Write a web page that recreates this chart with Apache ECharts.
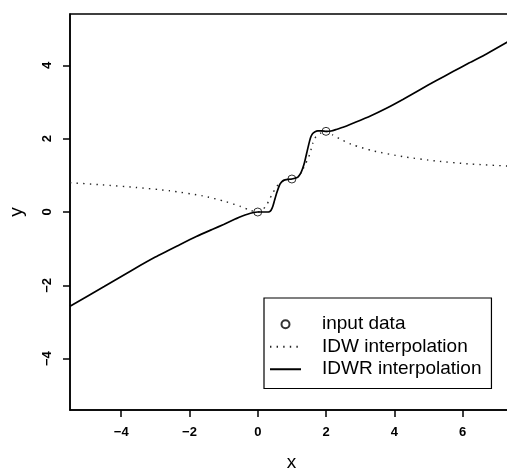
<!DOCTYPE html>
<html>
<head>
<meta charset="utf-8">
<script src="https://cdn.jsdelivr.net/npm/echarts@6.0.0/dist/echarts.min.js"></script>
<style>
html,body{margin:0;padding:0;background:#fff;}
#chart{width:507px;height:468px;}
</style>
</head>
<body>
<div id="chart"></div>
<script>
// Input data points
var inputX = [0, 1, 2];
var inputY = [0, 0.9, 2.2];

// IDW interpolation (dotted)
var idwX = [-5.5, -4.55, -3.57, -2.59, -1.61, -0.93, -0.5, -0.2, 0, 0.1, 0.25, 0.34, 0.44, 0.54, 0.67, 0.81, 1.0, 1.1, 1.27, 1.37, 1.47, 1.52, 1.57, 1.61, 1.66, 1.76, 1.86, 2.0, 2.2, 2.5, 2.79, 3.37, 4.25, 5.23, 6.21, 7.4];
var idwY = [0.80, 0.74, 0.67, 0.58, 0.44, 0.28, 0.15, 0.04, 0, 0.03, 0.17, 0.34, 0.51, 0.68, 0.80, 0.87, 0.9, 0.93, 1.06, 1.26, 1.45, 1.57, 1.73, 1.87, 2.0, 2.10, 2.16, 2.2, 2.10, 1.95, 1.83, 1.67, 1.51, 1.39, 1.31, 1.25];

// IDWR interpolation (solid)
var idwrX = [-5.5, -4.5, -3.67, -3.0, -2.3, -1.8, -1.32, -1.0, -0.63, -0.45, -0.3, -0.15, 0, 0.15, 0.29, 0.34, 0.39, 0.44, 0.49, 0.56, 0.64, 0.68, 0.73, 0.8, 0.88, 1.0, 1.17, 1.22, 1.27, 1.32, 1.37, 1.44, 1.52, 1.56, 1.61, 1.68, 1.76, 1.88, 2.0, 2.15, 2.3, 2.5, 2.79, 3.3, 3.77, 4.25, 4.74, 5.22, 5.72, 6.2, 6.7, 7.4];
var idwrY = [-2.57, -2.03, -1.58, -1.23, -0.90, -0.67, -0.47, -0.34, -0.18, -0.11, -0.06, -0.02, 0, 0.0, 0.0, 0.01, 0.05, 0.15, 0.31, 0.53, 0.74, 0.80, 0.85, 0.875, 0.89, 0.9, 0.95, 1.0, 1.08, 1.2, 1.35, 1.63, 1.94, 2.06, 2.14, 2.19, 2.21, 2.21, 2.2, 2.21, 2.25, 2.31, 2.42, 2.62, 2.83, 3.07, 3.33, 3.58, 3.83, 4.07, 4.31, 4.68];

// Tick labels
var xTicks = [-4, -2, 0, 2, 4, 6];
var yTicks = [-4, -2, 0, 2, 4];

function zip(a, b) { return a.map(function (v, i) { return [v, b[i]]; }); }
function fmt(v) { return String(v).replace('-', '\u2212'); }

var FONT = '"Liberation Sans", Arial, Helvetica, sans-serif';
var chart = echarts.init(document.getElementById('chart'), null, {renderer: 'canvas'});

chart.setOption({
  animation: false,
  backgroundColor: '#fff',
  textStyle: {fontFamily: FONT, color: '#000'},
  grid: {left: 70, top: 14, right: -3, bottom: 58, show: true, borderColor: '#000', borderWidth: 1.5, backgroundColor: 'transparent', containLabel: false, outerBoundsMode: 'none'},
  xAxis: {
    type: 'value', min: -5.5, max: 7.39,
    name: 'x', nameLocation: 'middle', nameGap: 43,
    nameTextStyle: {fontSize: 19, fontFamily: FONT, color: '#000', lineHeight: 19, padding: [0, 0, 0, 3]},
    axisLine: {show: true, onZero: false, lineStyle: {color: '#000', width: 1.5}},
    axisTick: {show: true, inside: false, length: 7, customValues: xTicks, lineStyle: {color: '#000', width: 1.5}},
    axisLabel: {show: true, customValues: xTicks, margin: 16, fontSize: 13, fontWeight: 'bold', fontFamily: FONT, color: '#000', formatter: fmt, showMinLabel: true, showMaxLabel: true},
    splitLine: {show: false}
  },
  yAxis: {
    type: 'value', min: -5.4, max: 5.4,
    name: 'y', nameLocation: 'middle', nameGap: 44,
    nameTextStyle: {fontSize: 19, fontFamily: FONT, color: '#000', lineHeight: 19},
    axisLine: {show: true, onZero: false, lineStyle: {color: '#000', width: 1.5}},
    axisTick: {show: true, inside: false, length: 7, customValues: yTicks, lineStyle: {color: '#000', width: 1.5}},
    axisLabel: {show: true, customValues: yTicks, rotate: 90, margin: 16, fontSize: 13, fontWeight: 'bold', fontFamily: FONT, color: '#000', formatter: fmt},
    splitLine: {show: false}
  },
  legend: {
    orient: 'vertical',
    left: 264, top: 298,
    padding: [15, 10, 8, 5],
    borderColor: '#000', borderWidth: 1.2,
    backgroundColor: '#fff',
    itemWidth: 31, itemHeight: 8, itemGap: 0,
    textStyle: {fontSize: 19, fontFamily: FONT, color: '#000', lineHeight: 22.5, padding: [0, 0, 0, 16]},
    data: [
      {name: 'input data'},
      {name: 'IDW interpolation', itemStyle: {opacity: 0}},
      {name: 'IDWR interpolation', itemStyle: {opacity: 0}}
    ]
  },
  series: [
    {
      name: 'input data', type: 'scatter', z: 5,
      data: zip(inputX, inputY),
      symbol: 'circle', symbolSize: 8,
      itemStyle: {color: 'rgba(0,0,0,0)', borderColor: '#000', borderWidth: 1},
      emphasis: {disabled: true}
    },
    {
      name: 'IDW interpolation', type: 'line',
      data: zip(idwX, idwY),
      showSymbol: false, symbol: 'none',
      smooth: 0.2,
      lineStyle: {color: '#222', width: 1.4, type: [1.4, 5.2]},
      itemStyle: {color: '#222'},
      emphasis: {disabled: true}
    },
    {
      name: 'IDWR interpolation', type: 'line',
      data: zip(idwrX, idwrY),
      showSymbol: false, symbol: 'none',
      smooth: 0.2,
      lineStyle: {color: '#000', width: 1.7, type: 'solid'},
      itemStyle: {color: '#000'},
      emphasis: {disabled: true}
    }
  ]
});
</script>
</body>
</html>
